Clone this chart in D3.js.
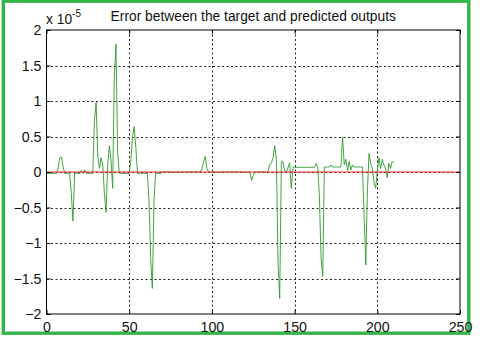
<!DOCTYPE html>
<html><head><meta charset="utf-8">
<script src="https://cdn.jsdelivr.net/npm/d3@7"></script>
<style>html,body{margin:0;padding:0;background:#fff;}svg{display:block;}</style>
</head><body>
<svg id="chart" width="480" height="339"></svg>
<script>
// Error values in units of 1e-5 (sample index = position in the array)
const errorValues = [
 -0.02,-0.02,-0.02,-0.02,-0.02,-0.02,-0.02, 0.05, 0.2, 0.21,
  0.08,-0.02,-0.02,-0.02,-0.02,-0.3,-0.69,-0.02,-0.02,-0.02,
 -0.02, 0.02,-0.02, 0.03,-0.02,-0.02,-0.02,-0.02,-0.02, 0.73,
  0.98, 0.22, 0.05, 0.2, 0.1,-0.3,-0.57, 0.1, 0.37, 0.18,
 -0.23, 1.33, 1.80, 0.29,-0.02,-0.02,-0.02,-0.02,-0.02,-0.02,
 -0.02, 0.15, 0.5, 0.64, 0.35,-0.02,-0.02,-0.02,-0.02,-0.02,
 -0.02,-0.02,-0.42,-1.23,-1.64,-0.4,-0.02,-0.02,-0.02,-0.02,
  0,0,0,0,0,0,0,0,0,0,
  0,0,0,0,0,0,0,0,0,0,
  0,0,0,0, 0.05, 0.15, 0.22, 0.05, 0, 0,
  0,0,0,0,0,0,0,0,0,0,
  0,0,0,0,0,0,0,0,0,0,
  0,0,0,0,-0.12,-0.05,0,0,0,0,
  0,0,0,0, 0.02, 0.1, 0.13, 0.2, 0.37, 0.18,
 -1.29,-1.78, 0.15, 0.14, 0.02, 0.0, 0.06, 0.13,-0.23, 0.066,
  0.066,0.066,0.066,0.066,0.066,0.066,0.066,0.066,0.066,0.066,
  0.066,0.066,0.066, 0.12, 0.07,-0.35,-1.21,-1.47, 0.07, 0.07,
  0.07, 0.07, 0.1, 0.07, 0.07, 0.07, 0.07, 0.07, 0.07, 0.49,
  0.1, 0.18, 0.02, 0.15, 0.03, 0.1, 0.07, 0.07, 0.07, 0.07,
  0.07, 0.07,-0.6,-1.31,-0.28, 0.26, 0.12, 0.05,-0.15,-0.23,
  0.02, 0.2, 0.05, 0.18, 0.1, 0.05,-0.08, 0.12, 0.05, 0.15,
  0.13
];
const targetLine = [[0, 0], [250, 0]];
const xTicks = [0, 50, 100, 150, 200, 250];
const yTicks = [-2, -1.5, -1, -0.5, 0, 0.5, 1, 1.5, 2];
const titleText = "Error between the target and predicted outputs";

const svg = d3.select("#chart");
const L = 46.5, R = 460, T = 30, B = 314;
const x = d3.scaleLinear().domain([0, 250]).range([L, R]);
const y = d3.scaleLinear().domain([-2, 2]).range([B, T]);
const font = "'Liberation Sans', Arial, sans-serif";

// outer green frame
svg.append("rect").attr("x", 3.3).attr("y", 1.2).attr("width", 465.5).attr("height", 332)
  .attr("fill", "none").attr("stroke", "#35b44a").attr("stroke-width", 3.4);

// grid
const grid = svg.append("g").attr("stroke", "#222").attr("stroke-width", 1).attr("stroke-dasharray", "2,2.5");
grid.selectAll(".gx").data(xTicks.slice(1, -1)).join("line")
  .attr("x1", d => Math.round(x(d)) + 0.5).attr("x2", d => Math.round(x(d)) + 0.5)
  .attr("y1", T).attr("y2", B);
grid.selectAll(".gy").data(yTicks.slice(1, -1)).join("line")
  .attr("y1", d => Math.round(y(d)) + 0.5).attr("y2", d => Math.round(y(d)) + 0.5)
  .attr("x1", L).attr("x2", R);

// data line
const line = d3.line().x((d, i) => x(i)).y(d => y(d));
svg.append("path").datum(errorValues).attr("d", line)
  .attr("fill", "none").attr("stroke", "#2a9a2a").attr("stroke-width", 0.9).attr("stroke-linejoin", "round");

// target (zero) line
svg.append("path").datum(targetLine).attr("d", d3.line().x(d => x(d[0])).y(d => y(d[1])))
  .attr("fill", "none").attr("stroke", "#ff2a2a").attr("stroke-width", 1);

// axes box
svg.append("rect").attr("x", L).attr("y", T).attr("width", R - L).attr("height", B - T)
  .attr("fill", "none").attr("stroke", "#000").attr("stroke-width", 1);

// axes (inward ticks)
const xAxis = d3.axisBottom(x).tickValues(xTicks).tickSize(-4).tickPadding(8).tickFormat(d3.format("d"));
const yAxis = d3.axisLeft(y).tickValues(yTicks).tickSize(-4).tickPadding(5).tickFormat(d => d3.format("")(d));
const gx = svg.append("g").attr("transform", `translate(0,${B})`).call(xAxis);
const gy = svg.append("g").attr("transform", `translate(${L},0)`).call(yAxis);
svg.append("g").attr("transform", `translate(0,${T})`).call(d3.axisTop(x).tickValues(xTicks).tickSize(-4).tickFormat(""));
svg.append("g").attr("transform", `translate(${R},0)`).call(d3.axisRight(y).tickValues(yTicks).tickSize(-4).tickFormat(""));
svg.selectAll(".domain").remove();
svg.selectAll(".tick line").attr("stroke", "#000");
[gx, gy].forEach(g => g.selectAll("text").attr("font-family", font).attr("font-size", 14.2).attr("fill", "#111"));
gy.selectAll("text").attr("dy", "0.35em");

// multiplier label
const mult = svg.append("text").attr("x", 46).attr("y", 24).attr("font-family", font).attr("font-size", 13.8).attr("fill", "#111");
mult.append("tspan").text("x 10");
mult.append("tspan").attr("dy", -7).attr("font-size", 10).text("-5");

// title
svg.append("text").attr("x", (L + R) / 2).attr("y", 21).attr("text-anchor", "middle")
  .attr("font-family", font).attr("font-size", 13.8).attr("fill", "#111").text(titleText);
</script>
</body></html>
